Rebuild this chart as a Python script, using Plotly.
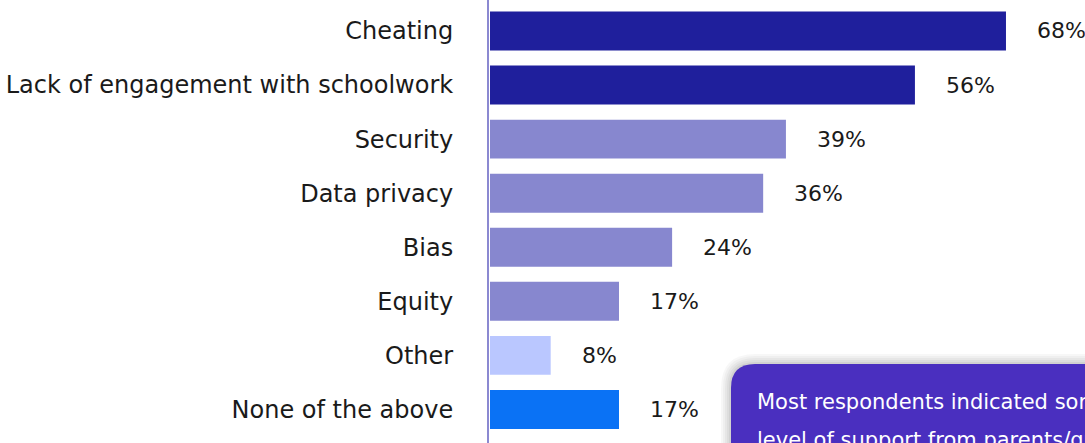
import plotly.graph_objects as go

categories = ["Cheating", "Lack of engagement with schoolwork", "Security",
              "Data privacy", "Bias", "Equity", "Other", "None of the above"]
values = [68, 56, 39, 36, 24, 17, 8, 17]
bar_colors = ["#1f1f9c", "#1f1f9c", "#8787cf", "#8787cf", "#8787cf",
              "#8787cf", "#bac7ff", "#0a72f5"]
card_lines = ["Most respondents indicated some",
              "level of support from parents/guardians"]

FONT = "DejaVu Sans"

fig = go.Figure()
fig.add_trace(go.Bar(
    x=values, y=categories, orientation="h",
    marker=dict(color=bar_colors, line=dict(width=0)),
    hoverinfo="skip",
))

# value labels, pushed right of the bar end
for c, v in zip(categories, values):
    fig.add_annotation(x=v, y=c, text=f"{v}%", xanchor="left", xshift=29,
                       showarrow=False,
                       font=dict(family=FONT, size=22, color="#1a1a1a"))

# card in the lower right, with a soft shadow
W, H, L = 596, 443, 489


def px(xp, yp):
    return (xp - L) / W, 1 - yp / H


def card_path(x0, y0, r):
    a = px(x0, y0 + r)
    b = px(x0, y0)
    c = px(x0 + r, y0)
    return (f"M {a[0]},{px(0, 470)[1]} L {a[0]},{a[1]} "
            f"Q {b[0]},{b[1]} {c[0]},{c[1]} L {px(1120, 0)[0]},{c[1]} "
            f"L {px(1120, 0)[0]},{px(0, 470)[1]} Z")


for i, alpha in enumerate([0.03, 0.03, 0.035, 0.04, 0.05]):
    grow = 10 - 2 * i
    fig.add_shape(type="path", xref="paper", yref="paper",
                  path=card_path(731 - grow, 364 - grow, 24 + grow),
                  fillcolor=f"rgba(0,0,0,{alpha})", line=dict(width=0))
fig.add_shape(type="path", xref="paper", yref="paper",
              path=card_path(731, 364, 24),
              fillcolor="#4a2fbf", line=dict(width=0))

for i, t in enumerate(card_lines):
    xx, yy = px(755, 402 + 38 * i)
    fig.add_annotation(x=xx, y=yy, xref="paper", yref="paper", text=t,
                       xanchor="left", yanchor="middle", showarrow=False,
                       font=dict(family=FONT, size=21, color="white"))

fig.update_layout(
    width=1085, height=443,
    margin=dict(l=L, r=0, t=0, b=0),
    paper_bgcolor="white", plot_bgcolor="white",
    bargap=0.28, showlegend=False,
    font=dict(family=FONT, size=24, color="#1a1a1a"),
)
fig.update_xaxes(range=[-1 / 7.588, -1 / 7.588 + W / 7.588], visible=False,
                 showgrid=False, zeroline=False, fixedrange=True)
fig.update_yaxes(categoryorder="array", categoryarray=categories,
                 range=[7.62, -0.573], showgrid=False, zeroline=False,
                 showline=True, linecolor="#8b89d1", linewidth=2,
                 ticks="", ticklabelstandoff=29,
                 tickfont=dict(family=FONT, size=24, color="#1a1a1a"))

fig.write_html("out.html", config={"displayModeBar": False},
               post_script="document.body.style.margin='0';")
